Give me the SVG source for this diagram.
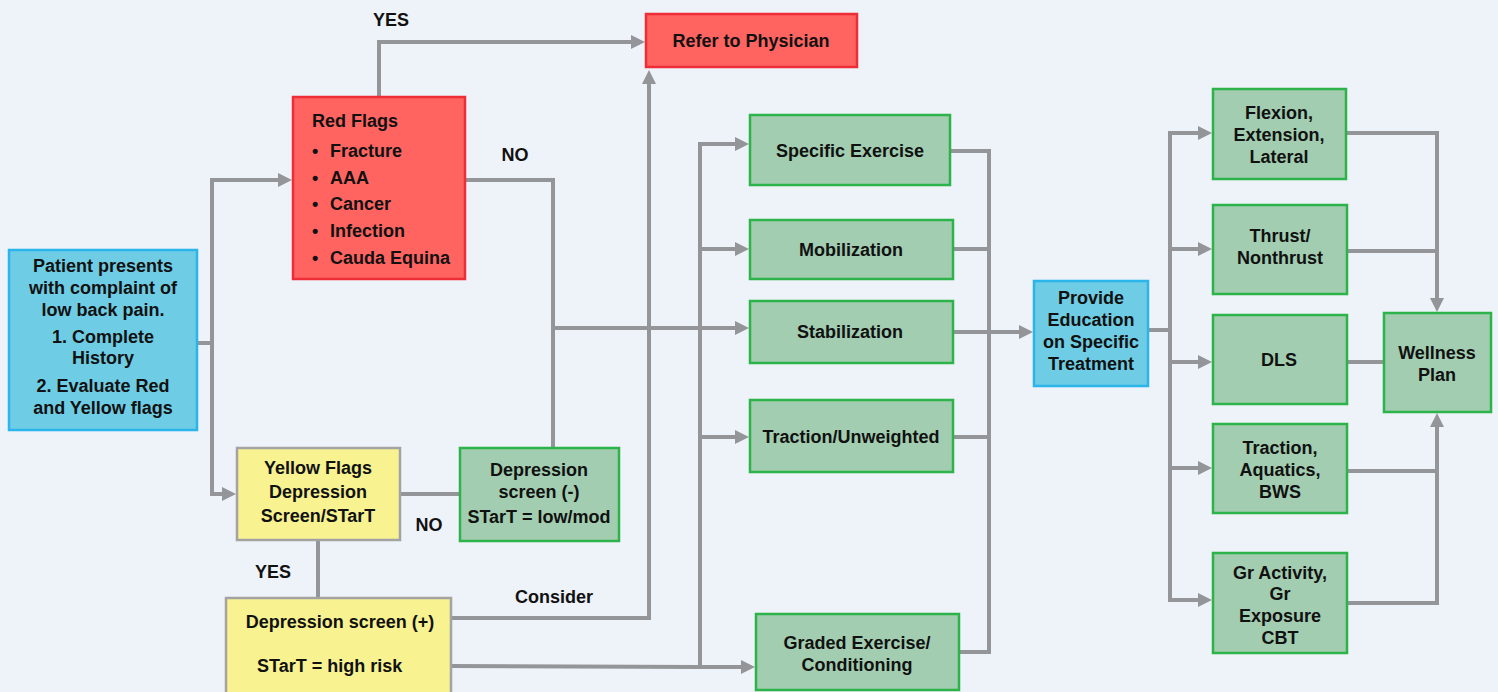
<svg xmlns="http://www.w3.org/2000/svg" width="1498" height="692" viewBox="0 0 1498 692">
<style>
text{font-family:"Liberation Sans",Arial,sans-serif;font-weight:bold;font-size:18px;fill:#111}
.c{text-anchor:middle}
.red{fill:#ff6461;stroke:#ee2d37;stroke-width:2.5}
.blue{fill:#6ecde4;stroke:#2bb5ea;stroke-width:2.5}
.green{fill:#a2cdb0;stroke:#2cb34a;stroke-width:2.5}
.yellow{fill:#f8f290;stroke:#a3a3a3;stroke-width:2.5}
.ln{fill:none;stroke:#939598;stroke-width:4}
.ar{marker-end:url(#ah)}
</style>
<defs>
<marker id="ah" viewBox="0 0 14 14" refX="10" refY="7" markerWidth="14" markerHeight="14" markerUnits="userSpaceOnUse" orient="auto">
<path d="M0,0 L14,7 L0,14 z" fill="#939598"/>
</marker>
</defs>
<rect width="1498" height="692" fill="#eef2f9"/>
<g id="connectors">
<path class="ln" d="M197,343 H212"/>
<path class="ln ar" d="M212,345 V180 H288"/>
<path class="ln ar" d="M212,341 V494 H232"/>
<path class="ln ar" d="M379,97 V42 H641"/>
<path class="ln" d="M466,180 H553 V447"/>
<path class="ln ar" d="M553,328 H745"/>
<path class="ln" d="M400,494 H460"/>
<path class="ln" d="M318,540 V598"/>
<path class="ln ar" d="M451,618 H649 V74"/>
<path class="ln ar" d="M451,666 L700,667 H751"/>
<path class="ln ar" d="M700,667 V144 H745"/>
<path class="ln ar" d="M700,249 H745"/>
<path class="ln ar" d="M700,437 H745"/>
<path class="ln" d="M951,151 H989 V652 H959"/>
<path class="ln" d="M953,249 H989"/>
<path class="ln" d="M953,437 H989"/>
<path class="ln ar" d="M953,332 H1029"/>
<path class="ln" d="M1148,330 H1170"/>
<path class="ln ar" d="M1170,600 V133 H1208"/>
<path class="ln ar" d="M1170,249 H1208"/>
<path class="ln ar" d="M1170,362 H1208"/>
<path class="ln ar" d="M1170,468 H1208"/>
<path class="ln ar" d="M1168,600 H1208"/>
<path class="ln ar" d="M1346,133 H1437 V308"/>
<path class="ln" d="M1347,251 H1437"/>
<path class="ln" d="M1347,362 H1384"/>
<path class="ln" d="M1347,471 H1437"/>
<path class="ln ar" d="M1347,603 H1437 V417"/>
</g>
<g id="labels">
<text class="c" x="391" y="26">YES</text>
<text class="c" x="515" y="161">NO</text>
<text class="c" x="429" y="531">NO</text>
<text class="c" x="273" y="578">YES</text>
<text class="c" x="554" y="603">Consider</text>
</g>
<g id="patient">
<rect class="blue" x="9" y="250" width="188" height="180"/>
<text class="c" x="103" y="272">Patient presents</text>
<text class="c" x="103" y="294">with complaint of</text>
<text class="c" x="103" y="316">low back pain.</text>
<text class="c" x="103" y="343">1. Complete</text>
<text class="c" x="103" y="364">History</text>
<text class="c" x="103" y="392">2. Evaluate Red</text>
<text class="c" x="103" y="414">and Yellow flags</text>
</g>
<g id="redflags">
<rect class="red" x="293" y="97" width="172" height="182"/>
<text x="312" y="127">Red Flags</text>
<text x="312" y="157">•</text><text x="330" y="157">Fracture</text>
<text x="312" y="184">•</text><text x="330" y="184">AAA</text>
<text x="312" y="210">•</text><text x="330" y="210">Cancer</text>
<text x="312" y="237">•</text><text x="330" y="237">Infection</text>
<text x="312" y="264">•</text><text x="330" y="264">Cauda Equina</text>
</g>
<g id="refer">
<rect class="red" x="646" y="14" width="211" height="53"/>
<text class="c" x="751" y="47">Refer to Physician</text>
</g>
<g id="yellowflags">
<rect class="yellow" x="237" y="448" width="163" height="92"/>
<text class="c" x="318" y="474">Yellow Flags</text>
<text class="c" x="318" y="498">Depression</text>
<text class="c" x="318" y="522">Screen/STarT</text>
</g>
<g id="depneg">
<rect class="green" x="460" y="448" width="159" height="93"/>
<text class="c" x="539" y="476">Depression</text>
<text class="c" x="539" y="498">screen (-)</text>
<text class="c" x="539" y="523">STarT = low/mod</text>
</g>
<g id="deppos">
<rect class="yellow" x="226" y="598" width="225" height="100"/>
<text class="c" x="340" y="628">Depression screen (+)</text>
<text x="257" y="672">STarT = high risk</text>
</g>
<g id="specific">
<rect class="green" x="750" y="115" width="200" height="70"/>
<text class="c" x="850" y="157">Specific Exercise</text>
</g>
<g id="mobilization">
<rect class="green" x="750" y="220" width="203" height="59"/>
<text class="c" x="851" y="256">Mobilization</text>
</g>
<g id="stabilization">
<rect class="green" x="750" y="301" width="203" height="62"/>
<text class="c" x="850" y="338">Stabilization</text>
</g>
<g id="traction">
<rect class="green" x="750" y="400" width="203" height="72"/>
<text class="c" x="851" y="443">Traction/Unweighted</text>
</g>
<g id="graded">
<rect class="green" x="756" y="614" width="203" height="76"/>
<text class="c" x="857" y="649">Graded Exercise/</text>
<text class="c" x="857" y="671">Conditioning</text>
</g>
<g id="provide">
<rect class="blue" x="1034" y="281" width="114" height="105"/>
<text class="c" x="1091" y="304">Provide</text>
<text class="c" x="1091" y="326">Education</text>
<text class="c" x="1091" y="348">on Specific</text>
<text class="c" x="1091" y="370">Treatment</text>
</g>
<g id="flexion">
<rect class="green" x="1213" y="89" width="133" height="90"/>
<text class="c" x="1279" y="119">Flexion,</text>
<text class="c" x="1279" y="141">Extension,</text>
<text class="c" x="1279" y="163">Lateral</text>
</g>
<g id="thrust">
<rect class="green" x="1213" y="205" width="134" height="89"/>
<text class="c" x="1280" y="242">Thrust/</text>
<text class="c" x="1280" y="264">Nonthrust</text>
</g>
<g id="dls">
<rect class="green" x="1213" y="315" width="134" height="89"/>
<text class="c" x="1279" y="366">DLS</text>
</g>
<g id="tab">
<rect class="green" x="1213" y="424" width="134" height="89"/>
<text class="c" x="1280" y="454">Traction,</text>
<text class="c" x="1280" y="476">Aquatics,</text>
<text class="c" x="1280" y="498">BWS</text>
</g>
<g id="gractivity">
<rect class="green" x="1213" y="553" width="134" height="100"/>
<text class="c" x="1280" y="579">Gr Activity,</text>
<text class="c" x="1280" y="600">Gr</text>
<text class="c" x="1280" y="622">Exposure</text>
<text class="c" x="1280" y="644">CBT</text>
</g>
<g id="wellness">
<rect class="green" x="1384" y="313" width="107" height="99"/>
<text class="c" x="1437" y="359">Wellness</text>
<text class="c" x="1437" y="381">Plan</text>
</g>
</svg>
